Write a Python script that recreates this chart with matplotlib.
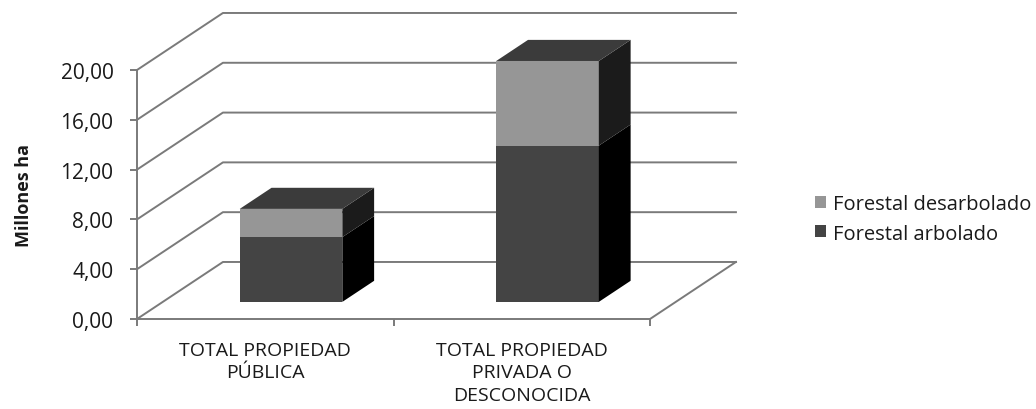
import matplotlib.pyplot as plt
from matplotlib.patches import Polygon, Patch

plt.rcParams['font.family'] = ['Open Sans', 'DejaVu Sans']

# datos (millones de ha)
categorias = ['TOTAL PROPIEDAD\nPÚBLICA', 'TOTAL PROPIEDAD\nPRIVADA O\nDESCONOCIDA']
arbolado = [5.20, 12.55]
desarbolado = [2.27, 6.80]
series = ['Forestal arbolado', 'Forestal desarbolado']
yticks = [0, 4, 8, 12, 16, 20]
ytick_labels = ['0,00', '4,00', '8,00', '12,00', '16,00', '20,00']

# colores: cara frontal, lateral
col_arb = ('#444444', '#000000')
col_des = ('#969696', '#1b1b1b')
col_top = '#3b3b3b'
gris = '#7a7a7a'
texto = '#1a1a1a'

# perspectiva oblicua: desplazamiento de toda la profundidad (x en categorias, y en valores)
DX, DY = 0.335, 4.58
d0, d1 = 0.30, 0.67   # profundidad de las columnas
ancho = 0.40


def p(x, y, d):
    return (x + d * DX, y + d * DY)


fig = plt.figure(figsize=(10.36, 4.10), dpi=100)
ax = fig.add_axes([137 / 1036, 90 / 410, 513 / 1036, 249 / 410])
ax.set_xlim(0, 2)
ax.set_ylim(0, 20)

# paredes: lineas de division
for v in yticks:
    pts = [p(0, v, 0), p(0, v, 1), p(2, v, 1)]
    ax.plot([q[0] for q in pts], [q[1] for q in pts], color=gris, lw=1.4,
            clip_on=False, zorder=1)
# borde derecho del suelo
pts = [p(2, 0, 0), p(2, 0, 1)]
ax.plot([q[0] for q in pts], [q[1] for q in pts], color=gris, lw=1.4,
        clip_on=False, zorder=1)


def cara(pts, color):
    ax.add_patch(Polygon(pts, closed=True, facecolor=color, edgecolor='none',
                         clip_on=False, zorder=3))


for i in range(len(categorias)):
    x0 = i + 0.5 - ancho / 2
    x1 = i + 0.5 + ancho / 2
    base = 0
    for val, (cfront, cside) in [(arbolado[i], col_arb), (desarbolado[i], col_des)]:
        top = base + val
        cara([p(x0, base, d0), p(x1, base, d0), p(x1, top, d0), p(x0, top, d0)], cfront)
        cara([p(x1, base, d0), p(x1, base, d1), p(x1, top, d1), p(x1, top, d0)], cside)
        base = top
    cara([p(x0, base, d0), p(x1, base, d0), p(x1, base, d1), p(x0, base, d1)], col_top)

# ejes
for s in ['top', 'right']:
    ax.spines[s].set_visible(False)
for s in ['left', 'bottom']:
    ax.spines[s].set_color(gris)
    ax.spines[s].set_linewidth(1.4)
    ax.spines[s].set_zorder(2)
ax.patch.set_visible(False)

ax.set_yticks(yticks, ytick_labels, fontsize=15, color=texto)
ax.set_xticks([0, 1, 2], ['', '', ''])
ax.set_xticks([0.5, 1.5], categorias, minor=True, fontsize=14, color=texto,
              linespacing=1.3)
ax.tick_params(axis='both', which='major', color=gris, width=1.4, length=5)
ax.tick_params(axis='y', which='major', pad=12)
ax.tick_params(axis='x', which='minor', length=0, pad=16)
ax.set_ylabel('Millones ha', fontsize=13, fontweight='bold', labelpad=20, color=texto)

handles = [Patch(facecolor=col_des[0], label=series[1]),
           Patch(facecolor=col_arb[0], label=series[0])]
fig.legend(handles=handles, loc='center left', bbox_to_anchor=(797 / 1036, 1 - 220 / 410),
           frameon=False, fontsize=14.5, handlelength=0.55, handleheight=0.55,
           handletextpad=0.35, labelspacing=0.45, labelcolor=texto)

fig.savefig('out.png', dpi=100)
